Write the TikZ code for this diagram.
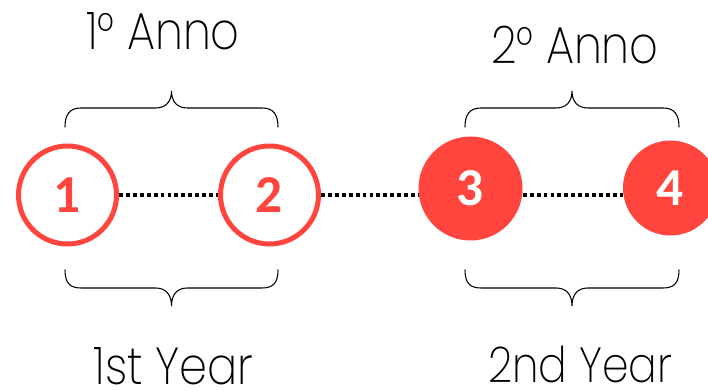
\documentclass[tikz,border=0pt]{standalone}
\usepackage{fontspec}
\setmainfont{Poppins ExtraLight}[FakeStretch=0.86]
\newfontfamily\numfont{Carlito}[BoldFont=* Bold]
\definecolor{tomato}{RGB}{255,69,61}
\tikzset{
  ring/.style={circle, draw=tomato, line width=3.75pt, minimum size=73.5pt,
    inner sep=0pt, font=\numfont\bfseries\fontsize{40}{40}\selectfont, text=tomato},
  disc/.style={circle, fill=tomato, inner sep=0pt,
    font=\numfont\bfseries\fontsize{40}{40}\selectfont, text=white},
  dotline/.style={line width=3.3pt, dash pattern=on 2.9pt off 2.3pt},
  brace/.style={line width=0.8pt, line cap=round},
  label/.style={anchor=base, inner sep=0pt, font=\fontsize{39}{39}\selectfont}
}
\begin{document}
\begin{tikzpicture}[x=0.75pt, y=-0.75pt]
\useasboundingbox (0,0) rectangle (708,391);

% timeline stops
\node[ring] (c1) at (67.5,195) {1};
\node[ring] (c2) at (269.5,195) {2};
\node[disc, minimum size=78pt] (c3) at (470.5,188.5) {3};
\node[disc, minimum size=71.25pt] (c4) at (670.5,188) {4};

% dotted links between stops
\draw[dotline] (c1.east) -- (c2.west);
\draw[dotline] (c2.east) -- (c2.east -| c3.west);
\draw[dotline] (c3.east |- c2.east) -- (c2.east -| c4.west);

% braces above
\foreach \a/\b/\m in {65/278/171.5, 465/679/572} {
  \draw[brace] (\a,127) .. controls (\a,114) and (\a+5,108) .. (\a+16,108)
    -- (\m-16,108) .. controls (\m-6,108) and (\m,102) .. (\m,91)
    .. controls (\m,102) and (\m+6,108) .. (\m+16,108)
    -- (\b-16,108) .. controls (\b-5,108) and (\b,114) .. (\b,127);
}
% braces below
\foreach \a/\b/\m in {65/278/171.5, 465/679/572} {
  \draw[brace] (\a,270) .. controls (\a,283) and (\a+5,288) .. (\a+16,288)
    -- (\m-16,288) .. controls (\m-6,288) and (\m,294) .. (\m,306)
    .. controls (\m,294) and (\m+6,288) .. (\m+16,288)
    -- (\b-16,288) .. controls (\b-5,288) and (\b,283) .. (\b,270);
}

% year labels
\node[label] (t1) at (163,50) {1° Anno};
\node[label] (t2) at (575,64) {2° Anno};
\node[label] (b1) at (173.5,385) {1st Year};
\node[label, font=\fontsize{37}{37}\selectfont] (b2) at (580,383) {2nd Year};
\end{tikzpicture}
\end{document}
